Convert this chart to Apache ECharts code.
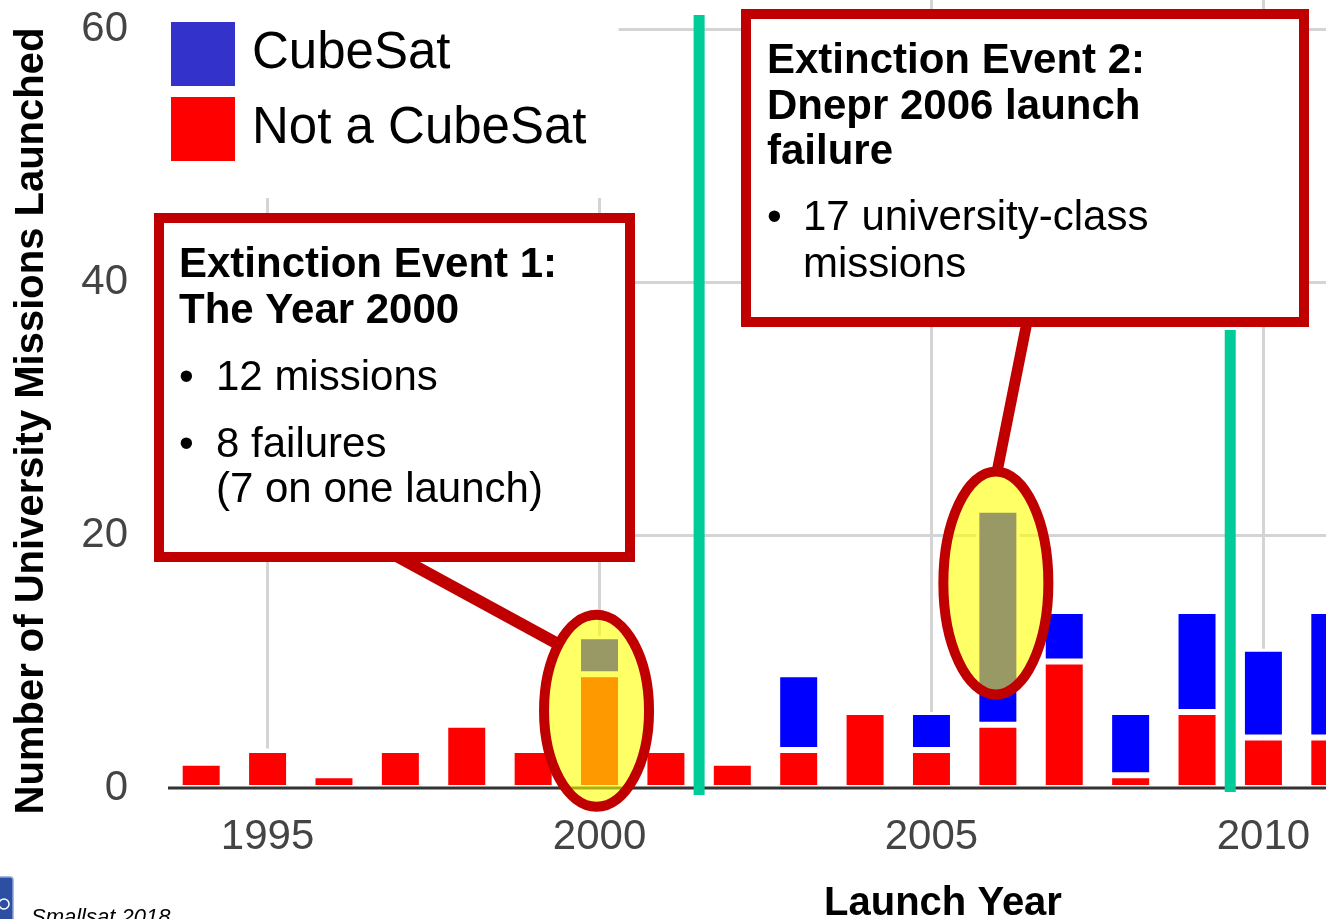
<!DOCTYPE html>
<html>
<head>
<meta charset="utf-8">
<script src="https://cdn.jsdelivr.net/npm/echarts@6/dist/echarts.min.js"></script>
<style>
  html, body { margin: 0; padding: 0; background: #fff; overflow: hidden; }
  #chart { width: 1326px; height: 919px; }
</style>
</head>
<body>
<div id="chart"></div>
<script>
  // launches per year
  var years = ['1994', '1995', '1996', '1997', '1998', '1999', '2000', '2001', '2002', '2003', '2004', '2005', '2006', '2007', '2008', '2009', '2010', '2011']
  var notCubeSat = [2, 3, 1, 3, 5, 3, 9, 3, 2, 3, 6, 3, 5, 10, 1, 6, 4, 4]
  var cubeSat = [0, 0, 0, 0, 0, 0, 3, 0, 0, 6, 0, 3, 17, 4, 5, 8, 7, 10]
  var xTicks = [1995, 2000, 2005, 2010]
  var yTicks = [0, 20, 40, 60]

  var FONT = 'Liberation Sans, Arial, sans-serif'
  var DARK_RED = '#c00000'
  var GREEN = '#00cc99'

  var myChart = echarts.init(document.getElementById('chart'))

  myChart.setOption({
    animation: false,
    textStyle: { fontFamily: FONT },
    grid: { left: 168, right: -37, top: 0, bottom: 131, containLabel: false, outerBoundsMode: 'none' },
    legend: {
      orient: 'vertical',
      left: 157,
      top: 0,
      padding: [22, 32, 37, 14],
      backgroundColor: '#fff',
      itemWidth: 64,
      itemHeight: 64,
      itemGap: 11,
      icon: 'rect',
      selectedMode: false,
      itemStyle: { borderWidth: 0 },
      textStyle: { fontSize: 51, color: '#000', fontFamily: FONT, padding: [0, 0, 0, 12] },
      data: [
        { name: 'CubeSat', itemStyle: { color: '#3333cc' } },
        { name: 'Not a CubeSat', itemStyle: { color: '#ff0000' } }
      ]
    },
    xAxis: [{
      // bars sit on this one
      type: 'category',
      position: 'bottom',
      data: years,
      boundaryGap: true,
      axisLine: { show: false },
      axisTick: { show: false },
      axisLabel: { show: false },
      splitLine: { show: false }
    }, {
      // year scale for labels and grid lines
      type: 'value',
      position: 'bottom',
      min: 1993.5,
      max: 2011.5,
      splitNumber: 4,
      axisLine: { show: false },
      axisTick: { show: false },
      axisLabel: {
        fontSize: 42,
        color: '#444',
        margin: 28,
        formatter: function (v) { return xTicks.indexOf(v) >= 0 ? String(v) : '' }
      },
      splitLine: { show: true, showMinLine: false, showMaxLine: false, lineStyle: { color: '#d4d4d4', width: 3 } }
    }],
    yAxis: {
      type: 'value',
      min: 0,
      max: 62.29,
      interval: 20,
      axisLine: { show: false },
      axisTick: { show: false },
      axisLabel: {
        fontSize: 42,
        color: '#444',
        margin: 40,
        formatter: function (v) { return yTicks.indexOf(v) >= 0 ? String(v) : '' }
      },
      splitLine: { show: true, showMinLine: false, showMaxLine: false, lineStyle: { color: '#d4d4d4', width: 3 } }
    },
    series: [{
      name: 'Not a CubeSat',
      type: 'bar',
      stack: 'total',
      xAxisIndex: 0,
      barWidth: 43,
      itemStyle: { color: '#ff0000', borderColor: '#fff', borderWidth: 3 },
      data: notCubeSat
    }, {
      name: 'CubeSat',
      type: 'bar',
      stack: 'total',
      xAxisIndex: 0,
      barWidth: 43,
      itemStyle: { color: '#0000ff', borderColor: '#fff', borderWidth: 3 },
      data: cubeSat
    }]
  })

  function px (year, v) {
    return [
      myChart.convertToPixel({ xAxisIndex: 1 }, year),
      myChart.convertToPixel({ yAxisIndex: 0 }, v)
    ]
  }

  function line (x1, y1, x2, y2, color, w, z) {
    return { type: 'line', z: z, silent: true, shape: { x1: x1, y1: y1, x2: x2, y2: y2 }, style: { stroke: color, lineWidth: w } }
  }

  function label (x, y, text, opts) {
    opts = opts || {}
    return {
      type: 'text', z: opts.z || 20, silent: true, x: x, y: y, rotation: opts.rotation || 0,
      style: {
        text: text,
        fill: opts.color || '#000',
        font: (opts.style || 'normal') + ' ' + (opts.weight || 'normal') + ' ' + (opts.size || 42) + 'px ' + FONT,
        align: opts.align || 'left',
        verticalAlign: 'middle'
      }
    }
  }

  var base = px(1993.5, 0)
  var g1 = px(2001.5, 0)
  var g2 = px(2009.5, 0)
  var e1 = px(2000, 6.1)
  var e2 = px(2006, 16.2)

  var bold = { weight: 'bold' }
  var graphics = [
    // baseline drawn over the bar borders
    line(base[0], base[1], 1326, base[1], '#333', 3, 4),
    // event separators
    line(g1[0], 15, g1[0], 795, GREEN, 11, 5),
    line(g2[0], 330, g2[0], 792, GREEN, 11, 5),
    // connectors from the boxes to the highlighted bars
    line(391, 553, 558, 644, DARK_RED, 12, 6),
    line(1027, 322, 997, 472, DARK_RED, 11, 6),
    // highlight ellipses
    { type: 'ellipse', z: 7, silent: true, shape: { cx: e1[0] - 3, cy: e1[1], rx: 52.5, ry: 96 },
      style: { fill: 'rgba(255,255,0,0.6)', stroke: DARK_RED, lineWidth: 10 } },
    { type: 'ellipse', z: 7, silent: true, shape: { cx: e2[0] - 2, cy: e2[1], rx: 52.5, ry: 111.5 },
      style: { fill: 'rgba(255,255,0,0.6)', stroke: DARK_RED, lineWidth: 10 } },
    // annotation boxes
    { type: 'rect', z: 8, silent: true, shape: { x: 159, y: 218, width: 471, height: 339 },
      style: { fill: '#fff', stroke: DARK_RED, lineWidth: 10 } },
    { type: 'rect', z: 8, silent: true, shape: { x: 746, y: 14, width: 558, height: 308 },
      style: { fill: '#fff', stroke: DARK_RED, lineWidth: 10 } },
    label(179, 265, 'Extinction Event 1:', bold),
    label(179, 311, 'The Year 2000', bold),
    label(179, 378, '\u2022'),
    label(216, 378, '12 missions'),
    label(179, 445, '\u2022'),
    label(216, 445, '8 failures'),
    label(216, 490, '(7 on one launch)'),
    label(767, 61, 'Extinction Event 2:', bold),
    label(767, 107, 'Dnepr 2006 launch', bold),
    label(767, 152, 'failure', bold),
    label(767, 218, '\u2022'),
    label(803, 218, '17 university-class'),
    label(803, 265, 'missions'),
    // axis titles
    label(32, 421, 'Number of University Missions Launched', { weight: 'bold', size: 40, align: 'center', rotation: Math.PI / 2 }),
    label(943, 904, 'Launch Year', { weight: 'bold', size: 40, align: 'center' }),
    // footer
    { type: 'rect', z: 20, silent: true, shape: { x: -4, y: 877, width: 17, height: 46, r: 3 },
      style: { fill: '#2d4fa3', stroke: '#8fa2d6', lineWidth: 1.5 } },
    { type: 'circle', z: 21, silent: true, shape: { cx: 4, cy: 904, r: 5 },
      style: { fill: 'none', stroke: '#fff', lineWidth: 1.5 } },
    label(31, 918, 'Smallsat 2018', { style: 'italic', size: 22 })
  ]

  myChart.setOption({ graphic: graphics })
</script>
</body>
</html>
